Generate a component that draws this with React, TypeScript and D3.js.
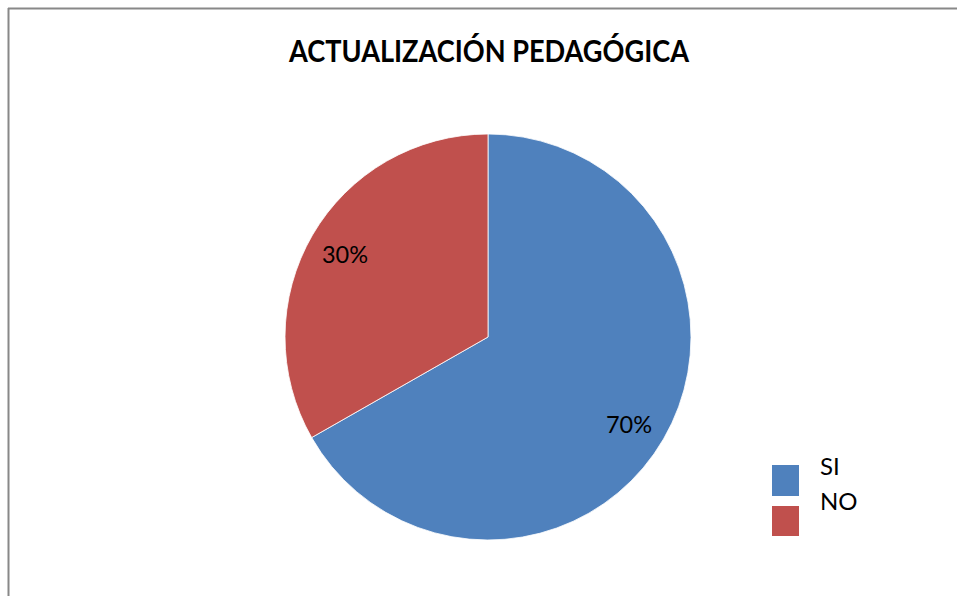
import React from "react";
import * as d3 from "d3";

const categories = ["SI", "NO"];
const shares = [66.75, 33.25];
const labels = ["70%", "30%"];
const colors = ["#4F81BD", "#C0504D"];
const title = "ACTUALIZACIÓN PEDAGÓGICA";

export default function App() {
  const W = 957, H = 596;
  const cx = 488, cy = 337, r = 203;
  const pie = d3.pie<number>().sort(null).value((d) => d);
  const arcs = pie(shares);
  const arc = d3.arc<d3.PieArcDatum<number>>().innerRadius(0).outerRadius(r);
  const font = "Lato, 'Open Sans', sans-serif";
  const labelPos = [
    [629, 433],
    [345, 263],
  ];
  return (
    <svg width={W} height={H} style={{ position: "absolute", left: 0, top: 0 }}>
      <rect x={0} y={0} width={W} height={H} fill="#fff" />
      <line x1={8} y1={8.5} x2={W} y2={8.5} stroke="#888" strokeWidth={2} />
      <line x1={8.5} y1={8} x2={8.5} y2={H} stroke="#888" strokeWidth={2} />
      <text x={489} y={62} textAnchor="middle" fontFamily={font} fontWeight="bold" fontSize={30}
        textLength={400} lengthAdjust="spacingAndGlyphs" fill="#000">
        {title}
      </text>
      <g transform={`translate(${cx},${cy})`}>
        {arcs.map((a, i) => (
          <path key={i} d={arc(a) || ""} fill={colors[i]} stroke="#fff" strokeWidth={0.8} />
        ))}
      </g>
      {labels.map((l, i) => (
        <text key={l} x={labelPos[i][0]} y={labelPos[i][1]} textAnchor="middle" fontFamily={font} fontSize={23.5} fill="#000">{l}</text>
      ))}
      {categories.map((c, i) => (
        <g key={c}>
          <rect x={772} y={465 + i * 41} width={27} height={31 - i} fill={colors[i]} />
          <text x={820} y={475 + i * 35} fontFamily={font} fontSize={24} fill="#000">{c}</text>
        </g>
      ))}
    </svg>
  );
}
